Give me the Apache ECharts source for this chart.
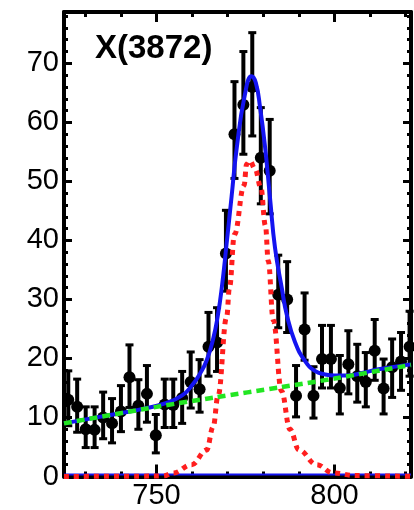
<!DOCTYPE html>
<html>
<head>
<meta charset="utf-8">
<script src="https://cdn.jsdelivr.net/npm/echarts@6/dist/echarts.min.js"></script>
<style>
  html, body { margin: 0; padding: 0; background: #ffffff; }
  #chart { width: 414px; height: 510px; }
</style>
</head>
<body>
<div id="chart"></div>
<script>
// Invariant-mass spectrum around the omega region: bin centres (MeV), counts and error-bar limits
const binCenters = [725.2, 727.7, 730.1, 732.6, 735.0, 737.5, 740.0, 742.4, 744.9, 747.3,
                    749.8, 752.3, 754.7, 757.2, 759.6, 762.1, 764.6, 767.0, 769.5, 771.9,
                    774.4, 776.9, 779.3, 781.8, 784.2, 786.7, 789.2, 791.6, 794.1, 796.5,
                    799.0, 801.5, 803.9, 806.4, 808.8, 811.3, 813.8, 816.2, 818.7, 821.1];
const counts = [13.0, 11.8, 8.0, 7.9, 10.0, 9.0, 11.0, 16.8, 12.0, 14.0,
                7.0, 12.2, 12.1, 13.3, 16.0, 14.8, 22.0, 22.7, 37.8, 58.0,
                63.0, 66.0, 54.0, 51.8, 30.8, 30.0, 13.7, 24.9, 13.7, 19.9,
                19.9, 15.0, 19.0, 17.0, 16.0, 21.3, 14.9, 18.5, 19.5, 22.0];
const errLow = [8.6, 7.5, 4.9, 4.9, 6.4, 5.7, 7.6, 11.7, 8.0, 9.2,
                4.0, 8.3, 8.3, 9.0, 11.6, 10.9, 17.0, 17.8, 31.4, 50.5,
                54.6, 57.7, 46.2, 44.5, 25.2, 24.4, 10.1, 19.7, 9.9, 15.0,
                15.0, 10.6, 14.0, 12.6, 11.8, 16.3, 10.6, 13.4, 14.6, 17.0];
const errHigh = [17.9, 16.5, 11.8, 11.8, 14.3, 13.2, 15.4, 22.3, 16.4, 18.8,
                 10.5, 16.5, 16.5, 17.8, 21.1, 19.8, 27.8, 28.6, 45.1, 66.9,
                 72.0, 75.2, 62.5, 60.5, 37.5, 36.4, 18.8, 31.1, 18.6, 25.6,
                 25.6, 20.5, 24.7, 22.4, 21.0, 26.6, 19.9, 23.3, 24.4, 28.0];

// Total fit (signal + background)
const totalX = [724, 734, 742.5, 747.2, 751.9, 757.1, 760.3, 762.2, 764.1, 765.9,
                767.2, 768.3, 769.7, 771.1, 772.5, 774.8, 776.7, 777.9, 779.1,
                780.5, 781.9, 783.3, 785.2, 786.6, 788.9, 791.7, 794.5, 797.3, 800,
                803.4, 808.1, 812.8, 821.5];
const totalY = [9.0, 10.1, 11.0, 11.6, 12.3, 13.7, 15.7, 17.4, 19.7, 23.3,
                27.2, 31.8, 39.5, 47.5, 55.5, 64.6, 67.8, 66.7, 62.5,
                55.8, 47.1, 38.7, 31.9, 27.4, 22.8, 19.6, 17.9, 17.3, 17.1,
                17.1, 17.6, 18.2, 19.0];

// Signal component
const signalX = [724, 745, 751.9, 754.7, 759.9, 764.1, 765.9, 767.3, 769.7, 770.5,
                 771.9, 774.6, 775.3, 776.2, 777.7, 779.3, 780.6, 781.4, 782.8, 785.1,
                 787.5, 790.0, 795.0, 799.6, 806, 821.5];
const signalY = [0.0, 0.05, 0.1, 0.6, 2.0, 4.5, 8.4, 13.7, 27.0, 32.0,
                 41.0, 49.3, 52.9, 53.5, 52.1, 49.0, 42.5, 36.5, 26.5, 14.5,
                 8.0, 4.5, 2.0, 0.6, 0.15, 0.02];

// Background component
const bkgX = [724, 750, 766.4, 784.7, 800, 821.5];
const bkgY = [9.0, 11.8, 13.4, 15.1, 16.6, 18.9];

// Zero level of the fit
const zeroX = [724, 821.5];
const zeroY = [0.35, 0.35];

// Axis ticks
const xMajorTicks = [750, 800];
const xMinorTicks = [730, 740, 760, 770, 780, 790, 810, 820];
const yMajorTicks = [0, 10, 20, 30, 40, 50, 60, 70];
const yMinorTicks = [2, 4, 6, 8, 12, 14, 16, 18, 22, 24, 26, 28, 32, 34, 36, 38,
                     42, 44, 46, 48, 52, 54, 56, 58, 62, 64, 66, 68, 72, 74, 76, 78];

const X_MIN = 724, X_MAX = 821.5, Y_MIN = 0, Y_MAX = 78.7;
const FONT = '"Liberation Sans", Arial, Helvetica, sans-serif';

const zip = (xs, ys) => xs.map((x, i) => [x, ys[i]]);

function xAxisDef(position, major, showLine) {
  return {
    type: 'value', position: position, offset: 0, min: X_MIN, max: X_MAX,
    axisLine: { show: showLine, onZero: false, lineStyle: { color: '#000', width: 4 } },
    axisTick: {
      show: true, inside: true,
      length: major ? (position === 'bottom' ? 12 : 10) : 5,
      customValues: major ? xMajorTicks : xMinorTicks,
      lineStyle: { color: '#000', width: 3 }
    },
    axisLabel: (position === 'bottom' && major) ? {
      show: true, customValues: xMajorTicks, fontSize: 29, color: '#000',
      fontFamily: FONT, margin: 4.5
    } : { show: false },
    splitLine: { show: false }
  };
}

function yAxisDef(position, major, showLine) {
  return {
    type: 'value', position: position, offset: 0, min: Y_MIN, max: Y_MAX,
    axisLine: { show: showLine, onZero: false, lineStyle: { color: '#000', width: 4 } },
    axisTick: {
      show: true, inside: true,
      length: major ? 8 : 4,
      customValues: major ? yMajorTicks : yMinorTicks,
      lineStyle: { color: '#000', width: 3 }
    },
    axisLabel: (position === 'left' && major) ? {
      show: true, customValues: yMajorTicks, fontSize: 29, color: '#000',
      fontFamily: FONT, margin: 5
    } : { show: false },
    splitLine: { show: false }
  };
}

const chart = echarts.init(document.getElementById('chart'), null, { renderer: 'canvas' });

chart.setOption({
  animation: false,
  backgroundColor: '#ffffff',
  grid: { left: 64, right: 3, top: 12, bottom: 30, containLabel: false },
  xAxis: [
    xAxisDef('bottom', true, true),
    xAxisDef('bottom', false, false),
    xAxisDef('top', true, true),
    xAxisDef('top', false, false)
  ],
  yAxis: [
    yAxisDef('left', true, true),
    yAxisDef('left', false, false),
    yAxisDef('right', true, true),
    yAxisDef('right', false, false)
  ],
  graphic: [{
    type: 'text',
    x: 95, y: 49,
    style: {
      text: 'X(3872)',
      font: 'bold 33px ' + FONT,
      fill: '#000',
      verticalAlign: 'middle'
    },
    z: 10
  }],
  series: [
    {
      name: 'errors',
      type: 'custom',
      xAxisIndex: 0, yAxisIndex: 0,
      z: 2,
      data: binCenters.map((x, i) => [x, errLow[i], errHigh[i]]),
      encode: { x: 0, y: [1, 2] },
      renderItem: function (params, api) {
        const x = api.value(0);
        const pLo = api.coord([x, api.value(1)]);
        const pHi = api.coord([x, api.value(2)]);
        const cap = 4;
        return {
          type: 'group',
          children: [
            { type: 'line', shape: { x1: pLo[0], y1: pLo[1], x2: pHi[0], y2: pHi[1] }, style: { stroke: '#000', lineWidth: 4 } },
            { type: 'line', shape: { x1: pHi[0] - cap, y1: pHi[1], x2: pHi[0] + cap, y2: pHi[1] }, style: { stroke: '#000', lineWidth: 3 } },
            { type: 'line', shape: { x1: pLo[0] - cap, y1: pLo[1], x2: pLo[0] + cap, y2: pLo[1] }, style: { stroke: '#000', lineWidth: 3 } }
          ]
        };
      }
    },
    {
      name: 'data',
      type: 'scatter',
      xAxisIndex: 0, yAxisIndex: 0,
      z: 3,
      symbol: 'circle',
      symbolSize: 12,
      itemStyle: { color: '#000', opacity: 1 },
      data: zip(binCenters, counts)
    },
    {
      name: 'zero',
      type: 'line',
      xAxisIndex: 0, yAxisIndex: 0,
      z: 4,
      showSymbol: false,
      lineStyle: { color: '#1414f0', width: 2 },
      data: zip(zeroX, zeroY)
    },
    {
      name: 'total',
      type: 'line',
      xAxisIndex: 0, yAxisIndex: 0,
      z: 5,
      smooth: 0.5,
      showSymbol: false,
      lineStyle: { color: '#1414f0', width: 4 },
      data: zip(totalX, totalY)
    },
    {
      name: 'signal',
      type: 'line',
      xAxisIndex: 0, yAxisIndex: 0,
      z: 6,
      smooth: 0.4,
      smoothMonotone: 'x',
      showSymbol: false,
      lineStyle: { color: '#ff1e1e', width: 5, type: [5, 5] },
      data: zip(signalX, signalY)
    },
    {
      name: 'background',
      type: 'line',
      xAxisIndex: 0, yAxisIndex: 0,
      z: 7,
      smooth: 0.3,
      showSymbol: false,
      lineStyle: { color: '#22e622', width: 4.5, type: [8, 5] },
      data: zip(bkgX, bkgY)
    }
  ]
});
</script>
</body>
</html>
